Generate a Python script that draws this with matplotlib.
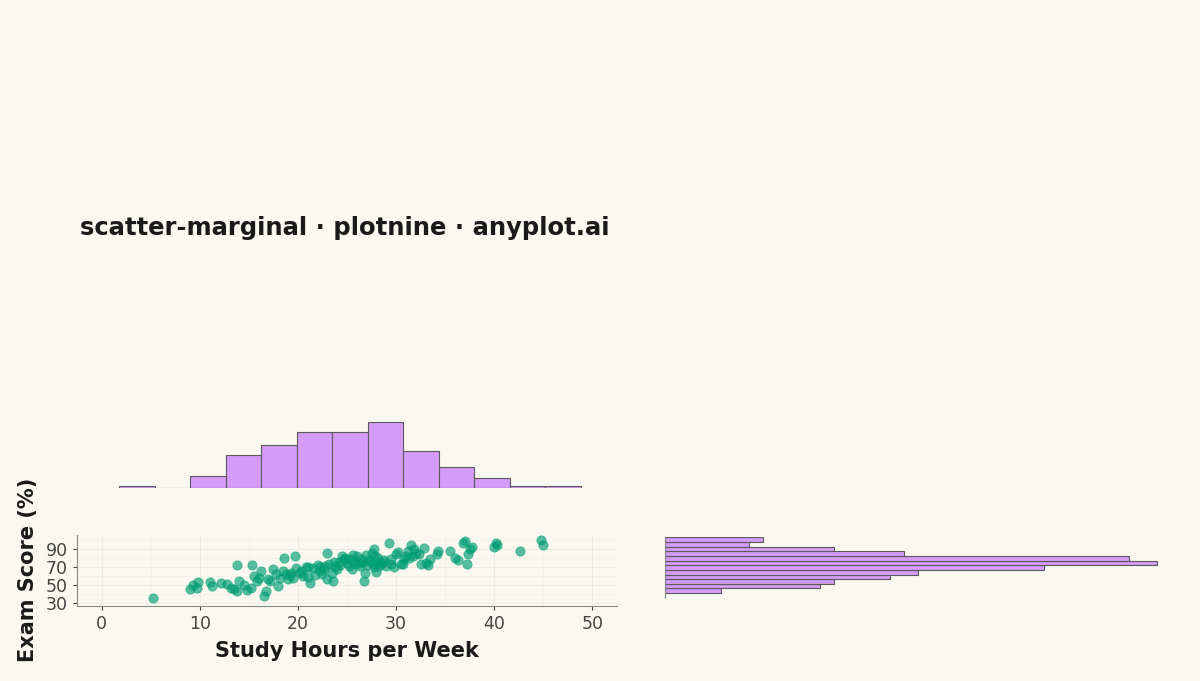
import matplotlib
matplotlib.use("Agg")
import matplotlib.pyplot as plt
import numpy as np

hours = [5.2,9,9.3,9.7,9.8,11,11.2,12.2,12.8,13.2,13.5,13.8,14,13.8,14.5,14.8,15.2,15.3,15.5,15.8,16,16.2,16.5,16.7,17,17.2,17.5,17.8,18,18.2,18.5,18.8,18.6,19,19.3,19.5,19.8,19.7,20.2,20.5,20.8,21,21.2,21.5,21.7,22,22.2,22.5,22.8,23,23,23.2,23.5,23.6,23.8,24,24.2,24.5,24.7,25,25.2,25.5,25.7,26,26.2,26.5,26.7,26.8,27,27.2,27.5,27.7,27.8,28,28.2,28.5,28.7,29,29.3,29.5,29.8,30,30.2,30.5,30.8,31,31.2,31.5,31.7,32,32.5,32.8,33,33.2,33.5,34.2,34.3,35.5,36,36.3,36.8,37,37.3,37.5,37.2,37.7,40,40.2,40.3,42.6,44.8,45,
         21,22.3,23.7,24.3,25.3,25.8,26.3,26.9,27.3,27.9,28.3,28.8,29.5,31.3,32.3,24.8,25.6,26.6,27.6,28.1,20.3,19.2,22.7,30.7,31.8]
scores = [35,46,50,47,53,53,49,52,51,47,45,43,54,72,50,44,47,72,60,55,58,66,38,43,57,55,68,62,49,58,66,62,80,57,64,58,69,82,63,60,70,59,52,69,61,72,66,62,71,57,86,73,64,54,70,68,76,83,79,75,71,68,77,82,75,79,55,63,72,78,86,70,90,65,80,74,76,71,97,73,70,85,87,73,79,83,88,95,82,86,73,91,75,72,79,85,88,88,80,78,97,99,85,90,74,93,93,97,95,88,100,95,
          70,70,76,72,79,73,71,84,77,82,71,78,79,80,85,80,84,76,74,75,66,61,68,74,90]

top_edges = np.linspace(1.8, 48.8, 14)
top_counts = [1,0,6,16,21,27,27,32,18,10,5,1,1]
right_edges = np.linspace(33, 101, 13)
right_counts = [4,11,12,16,18,27,35,33,17,12,6,7]

BG = "#FAF8F1"
PURPLE = "#D49BF8"
EDGE = "#5A5A5A"
GREEN = "#009E73"

fig = plt.figure(figsize=(12, 6.81), dpi=100, facecolor=BG)
W, H = 1200, 681
def ax_at(l, t, r, b):
    return fig.add_axes([l/W, 1-b/H, (r-l)/W, (b-t)/H])

fig.text(80/W, 1-228/H, "scatter-marginal · plotnine · anyplot.ai", fontsize=17.5,
         fontweight="bold", color="#1a1a1a", va="center", ha="left")

# top histogram
axt = ax_at(77, 415, 617, 488)
axt.set_facecolor(BG)
axt.bar(top_edges[:-1], top_counts, width=np.diff(top_edges), align="edge",
        color=PURPLE, edgecolor=EDGE, linewidth=0.8)
axt.set_xlim(-2.5, 52.5)
axt.set_ylim(0, 35.5)
axt.axis("off")

# scatter
ax = ax_at(77, 535, 617, 606)
ax.set_facecolor(BG)
ax.scatter(hours, scores, s=45, color=GREEN, alpha=0.65, edgecolors=GREEN, linewidths=0.5, zorder=3)
ax.set_xlim(-2.5, 52.5)
ax.set_ylim(26.5, 106)
ax.set_xticks([0,10,20,30,40,50])
ax.set_yticks([30,50,70,90])
ax.set_xticks([5,15,25,35,45], minor=True)
ax.set_yticks([40,60,80,100], minor=True)
ax.grid(True, which="major", color="#ECE9E2", linewidth=0.6)
ax.grid(True, which="minor", color="#F1EEE8", linewidth=0.4)
ax.set_axisbelow(True)
for s in ["top", "right"]:
    ax.spines[s].set_visible(False)
for s in ["left", "bottom"]:
    ax.spines[s].set_color("#888888")
ax.tick_params(labelsize=12.5, colors="#444444", length=3)
ax.tick_params(which="minor", length=0)
ax.set_xlabel("Study Hours per Week", fontsize=15, fontweight="bold", color="#1a1a1a", labelpad=6)
fig.text(28/W, 1-570/H, "Exam Score (%)", fontsize=15, fontweight="bold", color="#1a1a1a",
         rotation=90, va="center", ha="center")

# right histogram
axr = ax_at(665, 537, 1175, 598)
axr.set_facecolor(BG)
axr.barh(right_edges[:-1], right_counts, height=np.diff(right_edges), align="edge",
         color=PURPLE, edgecolor=EDGE, linewidth=0.8)
axr.set_xlim(0, 36.3)
axr.set_ylim(27, 101.5)
for s in ["top", "right", "bottom"]:
    axr.spines[s].set_visible(False)
axr.spines["left"].set_color("#888888")
axr.set_xticks([]); axr.set_yticks([])

fig.savefig("out.png", dpi=100, facecolor=BG)
